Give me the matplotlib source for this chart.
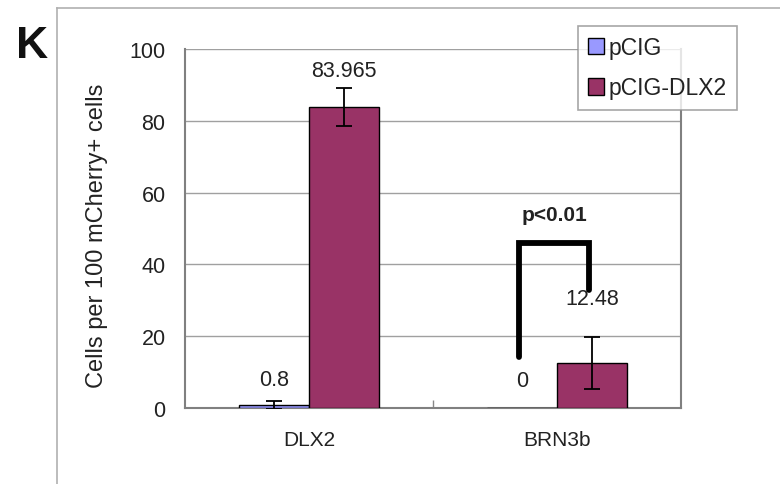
import matplotlib
matplotlib.use("Agg")
import matplotlib.pyplot as plt
import numpy as np
from matplotlib.lines import Line2D
from matplotlib.patches import Patch

plt.rcParams['font.family'] = ['Liberation Sans', 'DejaVu Sans']

categories = ["DLX2", "BRN3b"]
series_names = ["pCIG", "pCIG-DLX2"]
pcig_values = [0.8, 0.0]
pcig_errors = [1.2, 0.0]
dlx2_values = [83.965, 12.48]
dlx2_errors = [5.3, 7.3]
pcig_labels = ["0.8", "0"]
dlx2_labels = ["83.965", "12.48"]
y_ticks = [0, 20, 40, 60, 80, 100]
ylabel = "Cells per 100 mCherry+ cells"
sig_text = "p<0.01"
panel_letter = "K"

colors = ["#9999FF", "#993366"]
txt = "#222222"

fig = plt.figure(figsize=(7.8, 4.85), dpi=100)
ax = fig.add_axes([185/780, 1-409/485, (681-185)/780, (409-50)/485])

x = np.arange(len(categories))
w = 0.282
ax.bar(x - w/2, pcig_values, w, color=colors[0], edgecolor="black", linewidth=1.0, zorder=3)
ax.bar(x + w/2, dlx2_values, w, color=colors[1], edgecolor="black", linewidth=1.0, zorder=3)
ax.errorbar(x[:1] - w/2, pcig_values[:1], yerr=pcig_errors[:1], fmt="none", ecolor="black",
            elinewidth=1.3, capsize=5.5, capthick=1.3, zorder=4)
ax.errorbar(x + w/2, dlx2_values, yerr=dlx2_errors, fmt="none", ecolor="black",
            elinewidth=1.3, capsize=5.5, capthick=1.3, zorder=4)

# value labels
pcig_label_y = [7.8, 7.6]
dlx2_label_y = [93.9, 30.4]
for i in range(len(categories)):
    ax.text(x[i] - w/2, pcig_label_y[i], pcig_labels[i], ha="center", va="center", fontsize=15.5, color=txt, zorder=5)
    ax.text(x[i] + w/2, dlx2_label_y[i], dlx2_labels[i], ha="center", va="center", fontsize=15.5, color=txt, zorder=5)

# significance bracket
bx0 = x[1] - w/2 - 0.012
bx1 = x[1] + w/2 - 0.012
ax.plot([bx0, bx0, bx1, bx1], [14.2, 46, 46, 33], color="black", linewidth=4.2,
        solid_capstyle="round", solid_joinstyle="miter", zorder=6)
ax.text(x[1] - 0.01, 54, sig_text, ha="center", va="center", fontsize=15, fontweight="bold", color=txt, zorder=6)

ax.set_xlim(-0.5, 1.5)
ax.set_ylim(0, 100)
ax.set_yticks(y_ticks)
ax.set_yticklabels([str(t) for t in y_ticks], fontsize=15.5, color=txt)
ax.tick_params(axis="y", length=0, pad=14)
ax.set_xticks(x)
ax.set_xticklabels(categories, fontsize=15, color=txt)
ax.tick_params(axis="x", length=0, pad=16)
ax.set_xticks([0.5], minor=True)
ax.tick_params(axis="x", which="minor", direction="in", length=6, color="#888888", width=1)
ax.grid(axis="y", color="#A0A0A0", linewidth=1.0, zorder=0)
ax.set_axisbelow(True)
for side in ["left", "bottom", "right"]:
    ax.spines[side].set_color("#808080")
    ax.spines[side].set_linewidth(1.5)
ax.spines["top"].set_visible(False)

fig.text(97/780, 1-236/485, ylabel, rotation=90, ha="center", va="center", fontsize=17, color=txt)
fig.text(32/780, 1-46/485, panel_letter, ha="center", va="center", fontsize=32, fontweight="bold", color="#111111")

# outer frame (left and top lines)
fig.add_artist(Line2D([57/780, 57/780], [0, 1-9/485], transform=fig.transFigure, color="#B0B0B0", linewidth=1.2))
fig.add_artist(Line2D([57/780, 1], [1-9/485, 1-9/485], transform=fig.transFigure, color="#B0B0B0", linewidth=1.2))

handles = [Patch(facecolor=colors[0], edgecolor="black", linewidth=1.0),
           Patch(facecolor=colors[1], edgecolor="black", linewidth=1.0)]
leg = fig.legend(handles, series_names, loc="upper left", bbox_to_anchor=(578/780, 1-27/485),
                 fontsize=16.5, frameon=True, fancybox=False, handlelength=0.7, handleheight=0.7,
                 handletextpad=0.2, borderpad=0.45, labelspacing=0.75, borderaxespad=0)
leg.get_frame().set_edgecolor("#909090")
leg.get_frame().set_linewidth(1.2)
for t in leg.get_texts():
    t.set_color(txt)

fig.savefig("out.png", dpi=100)
